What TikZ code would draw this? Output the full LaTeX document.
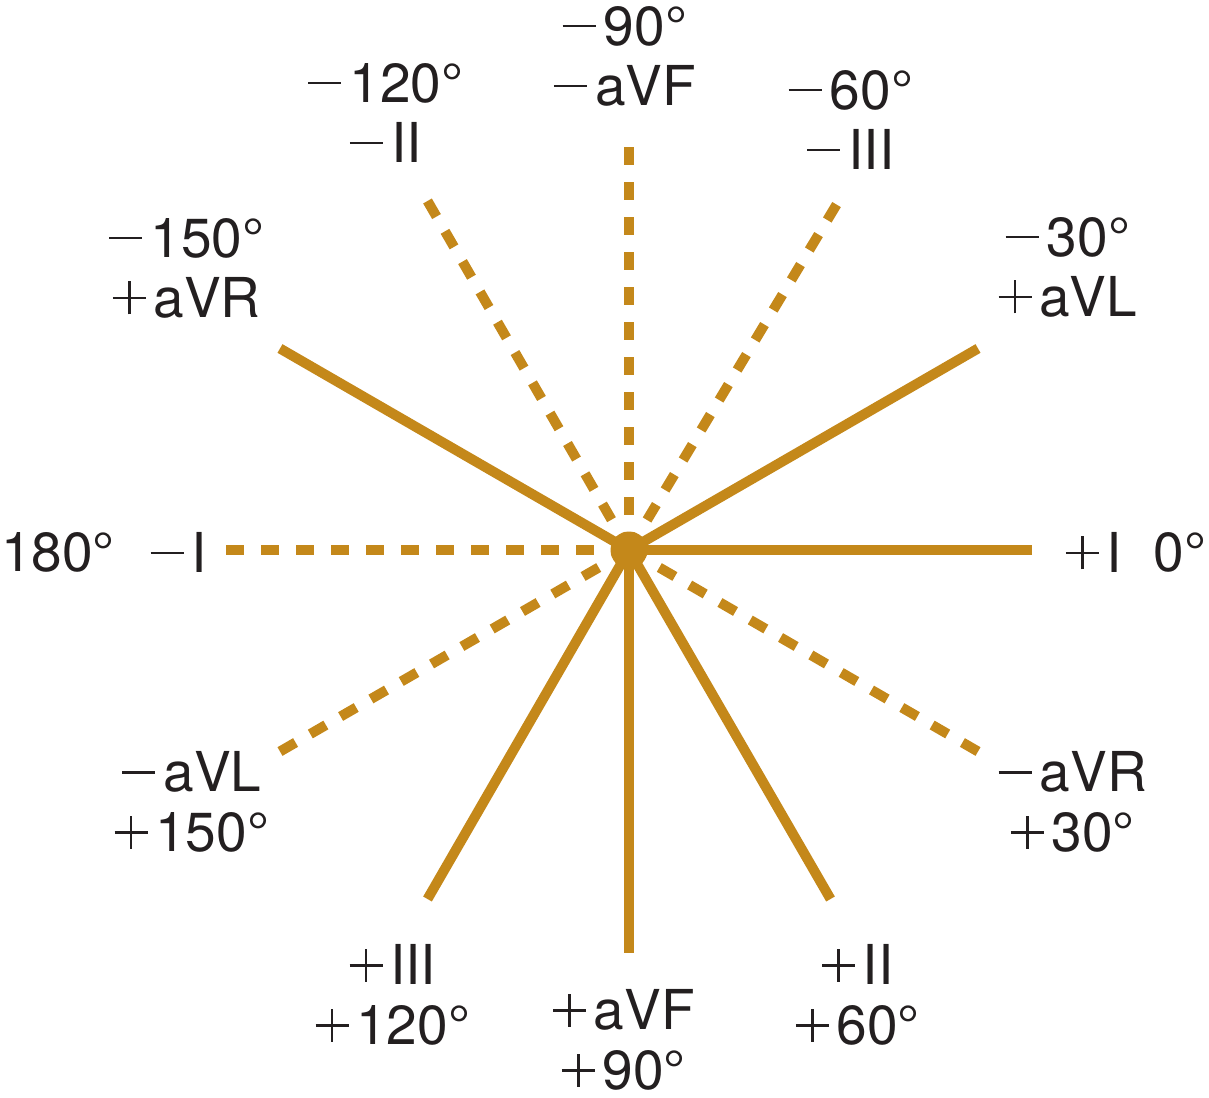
\documentclass[tikz,border=0pt]{standalone}
\usepackage{fontspec}
\setmainfont{TeX Gyre Heros}
\usetikzlibrary{calc}
\definecolor{lead}{HTML}{C4881A}
\definecolor{ink}{HTML}{231F20}
\newcommand\mn{\kern0.03em\rule[0.3275em]{0.6em}{0.045em}\kern0.15em}
\newcommand\pl{\kern0.03em\rlap{\rule[0.3275em]{0.6em}{0.045em}}\kern0.2775em\rule[0.05em]{0.045em}{0.6em}\kern0.2775em\kern0.14em}
\begin{document}
\begin{tikzpicture}[x=1pt,y=-1pt,
  axis/.style={draw=lead,line width=10pt},
  neg/.style={axis,dash pattern=on 18pt off 17pt},
  lbl/.style={text=ink,inner sep=0pt,align=center,font=\fontsize{55}{60}\selectfont}]
\useasboundingbox (0,0) rectangle (1209,1097);
\coordinate (o) at (629,550);
\foreach \n/\a in {p0/0,p60/60,p90/90,p120/120,pm30/-30,pm150/-150,
                   q180/180,qm120/-120,qm90/-90,qm60/-59,q30/30,q150/150}
  \coordinate (\n) at ($(o)+(\a:403)$);
% dashed (negative) leads
\foreach \n in {q180,qm120,qm90,qm60,q30,q150}
  \draw[neg] (\n) -- (o);
% solid (positive) leads
\foreach \n in {p0,p60,p90,p120,pm30,pm150}
  \draw[axis] (o) -- (\n);
\fill[lead] (o) circle (18.5pt);
% labels
\node[lbl] (l1) at (624,56) {\mn90°\\\mn aVF};
\node[lbl] (l2) at (385,113) {\mn120°\\\mn II};
\node[lbl] (l3) at (850,120) {\mn60°\\\mn III};
\node[lbl] (l4) at (186,268) {\mn150°\\\pl aVR};
\node[lbl] (l5) at (1067,267) {\mn30°\\\pl aVL};
\node[lbl] (l6) at (58,552) {180°};
\node[lbl] (l7) at (178,552) {\mn I};
\node[lbl] (l8) at (1093,552) {\pl I};
\node[lbl] (l9) at (1180,552) {0°};
\node[lbl] (l10) at (191,802) {\mn aVL\\\pl150°};
\node[lbl] (l11) at (1072,802) {\mn aVR\\\pl30°};
\node[lbl] (l12) at (392,995) {\pl III\\\pl120°};
\node[lbl] (l13) at (623,1040) {\pl aVF\\\pl90°};
\node[lbl] (l14) at (857,995) {\pl II\\\pl60°};
\end{tikzpicture}
\end{document}
